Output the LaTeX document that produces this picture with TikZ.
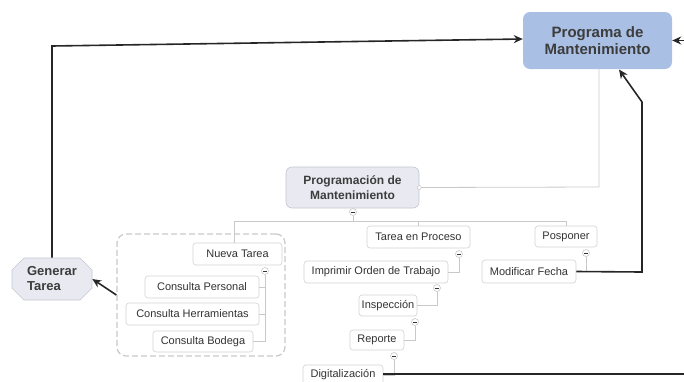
\documentclass[tikz,border=0pt]{standalone}
\usepackage{fontspec}
\setmainfont{Liberation Sans}
\usetikzlibrary{arrows.meta,shapes.misc}
\definecolor{progfill}{HTML}{A9BFE4}
\definecolor{progtext}{HTML}{3C3C3C}
\definecolor{subfill}{HTML}{E9EAF1}
\definecolor{subdraw}{HTML}{C4C6CE}
\definecolor{leafdraw}{HTML}{D2D2D2}
\definecolor{conn}{HTML}{C9C9C9}
\definecolor{leaftext}{HTML}{333333}
\tikzset{
  mainbox/.style={draw=none, fill=progfill, rounded corners=7pt, inner sep=0pt,
    minimum width=149pt, minimum height=57pt, align=center, text=progtext,
    font=\fontsize{15}{17.5}\selectfont\bfseries},
  subbox/.style={draw=subdraw, fill=subfill, rounded corners=6pt, inner sep=0pt,
    minimum width=133pt, minimum height=41pt, align=center, text=progtext,
    font=\fontsize{12}{14.5}\selectfont\bfseries, line width=0.6pt},
  genbox/.style={chamfered rectangle, chamfered rectangle xsep=6pt, chamfered rectangle ysep=6pt,
    draw=subdraw, fill=subfill, inner sep=0pt, minimum width=80pt, minimum height=42pt,
    align=left, text=progtext, font=\fontsize{13}{15}\selectfont\bfseries, line width=0.6pt},
  leaf/.style={draw=leafdraw, fill=white, rounded corners=3pt, inner sep=0pt,
    minimum height=22pt, text=leaftext, font=\fontsize{11}{13}\selectfont, line width=0.6pt},
  grpbox/.style={draw=conn, dashed, dash pattern=on 6pt off 3pt, rounded corners=9pt,
    line width=1.2pt, inner sep=0pt, minimum width=168pt, minimum height=122pt},
  minus/.style={circle, draw=conn, fill=white, inner sep=0pt, minimum size=7pt, line width=0.6pt,
    path picture={\draw[leaftext, line width=0.7pt] ([xshift=-1.6pt]path picture bounding box.center) -- ([xshift=1.6pt]path picture bounding box.center);}},
  hollow/.style={circle, draw=conn, fill=white, inner sep=0pt, minimum size=4pt, line width=0.6pt},
  cline/.style={draw=conn, line width=0.8pt},
  barrow/.style={draw=black!85, line width=1.6pt, -{Stealth[length=9pt,width=8pt]}},
}
\begin{document}
\begin{tikzpicture}[x=1pt, y=-1pt]
\useasboundingbox (0,0) rectangle (684,381);

% group box
\node[grpbox] (grp) at (201,295) {};

% main nodes
\node[mainbox] (prog) at (597.5,40.5) {Programa de\\Mantenimiento};
\node[subbox] (pm) at (352.5,187.5) {Programación de\\Mantenimiento};
\node[genbox] (gen) at (52,279) {Generar\\Tarea};

% leaves
\node[leaf, minimum width=89pt] (nt) at (237.5,254) {Nueva Tarea};
\node[leaf, minimum width=114pt] (cp) at (202,287) {Consulta Personal};
\node[leaf, minimum width=133pt] (ch) at (192.5,314) {Consulta Herramientas};
\node[leaf, minimum width=100pt, minimum height=21pt] (cb) at (203,341.5) {Consulta Bodega};
\node[leaf, minimum width=103pt] (tp) at (418.5,237) {Tarea en Proceso};
\node[leaf, minimum width=144pt] (io) at (376,272) {Imprimir Orden de Trabajo};
\node[leaf, minimum width=58pt, minimum height=21pt] (ins) at (388,305.5) {Inspección};
\node[leaf, minimum width=54pt, minimum height=20pt] (rep) at (377,340) {Reporte};
\node[leaf, minimum width=80pt, minimum height=20pt] (dig) at (343,375) {Digitalización};
\node[leaf, minimum width=62pt, minimum height=21pt] (pos) at (566,236.5) {Posponer};
\node[leaf, minimum width=94pt, minimum height=23pt] (mf) at (529,271.5) {Modificar Fecha};

% coordinates
\coordinate (bus) at (353,221);
\coordinate (pr) at (599,187);

% gray connectors
\draw[cline] (pm.east) -- (pr) -- (prog.south -| pr);
\node[hollow] (hc) at (pm.east) {};
\node[minus] (m0) at (353,212) {};
\draw[cline] (m0) -- (bus);
\draw[cline] (nt.north -| 234,0) -- (234,221) -- (566,221) -- (pos.north);
\draw[cline] (tp.north) -- (tp.north |- bus);

\node[minus] (m1) at (265,271) {};
\draw[cline] (m1) -- (265,342);
\draw[cline] (265,287) -- (cp.east);
\draw[cline] (265,314) -- (ch.east);
\draw[cline] (265,341.5) -- (cb.east);

\node[minus] (m2) at (459,254) {};
\draw[cline] (m2) |- (io.east);
\node[minus] (m3) at (437,288) {};
\draw[cline] (m3) |- (ins.east);
\node[minus] (m4) at (415,322) {};
\draw[cline] (m4) |- (rep.east);
\node[minus] (m5) at (394,356) {};
\draw[cline] (m5) |- (dig.east);
\node[minus] (m6) at (586,253) {};
\draw[cline] (m6) |- (mf.east);

% black arrows
\coordinate (tl) at (52,46);
\draw[barrow] (gen.north) -- (tl) -- ([yshift=1.5pt]prog.west);
\draw[barrow] (grp.west) -- (gen.east);
\coordinate (mr1) at (642,272);
\coordinate (mr2) at (642,102);
\draw[barrow] (mf.east) -- (mr1) -- (mr2) -- (619,69.5);
\coordinate (dr1) at (700,374);
\coordinate (dr2) at (700,40.5);
\draw[barrow] (dig.east |- 0,374) -- (dr1) -- (dr2) -- (prog.east);
\end{tikzpicture}
\end{document}
